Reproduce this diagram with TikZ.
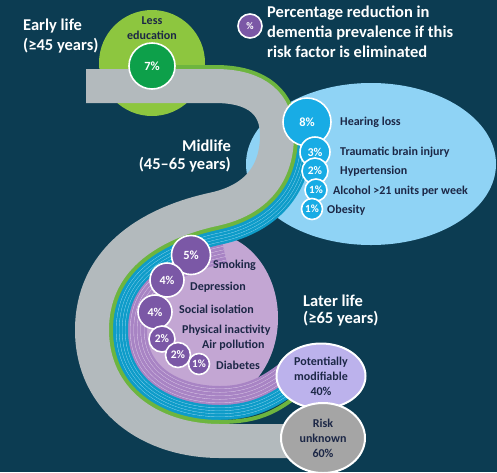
\documentclass[tikz,border=0pt]{standalone}
\usepackage{fontspec}
\setmainfont{Carlito}
\usetikzlibrary{shapes.geometric}
\definecolor{bgc}{HTML}{0C3C52}
\definecolor{bandgray}{HTML}{B3BABD}
\definecolor{lgreen}{HTML}{8DC63F}
\definecolor{dgreen}{HTML}{0DA04A}
\definecolor{gline}{HTML}{6DB53F}
\definecolor{lblue}{HTML}{8FD3F5}
\definecolor{bblue}{HTML}{18ACE5}
\definecolor{cyanl}{HTML}{0E9CC9}
\definecolor{cyanlt}{HTML}{8CD3EE}
\definecolor{lilac}{HTML}{C3A6D3}
\definecolor{purp}{HTML}{7B58A6}
\definecolor{purpl}{HTML}{A884C4}
\definecolor{purplt}{HTML}{DCC9E8}
\definecolor{lav}{HTML}{BCB2EC}
\definecolor{rgray}{HTML}{A5A5A5}
\definecolor{navy}{HTML}{1C2746}
\def\pA{(215,86) .. controls (258,86) and (277,105) .. (277,135)}
\def\pB{.. controls (277,175) and (255,200) .. (215,209)}
\def\pC{.. controls (145,224) and (92,262) .. (92,330)}
\def\pD{.. controls (92,400) and (150,441) .. (220,441)}
\def\pE{.. controls (262,441) and (292,425) .. (322,400)}
\begin{document}
\begin{tikzpicture}[x=1pt,y=-1pt,
  lbl/.style={font=\fontsize{12}{13}\selectfont\bfseries, text=navy, anchor=west, inner sep=0pt},
  big/.style={font=\fontsize{16.5}{18}\selectfont\bfseries, text=white, inner sep=0pt},
  bub/.style={circle, draw=white, line width=1.6pt, text=white, inner sep=0pt, font=\fontsize{11}{11}\selectfont\bfseries},
  ctext/.style={font=\fontsize{12}{15}\selectfont\bfseries, text=navy, align=center, inner sep=0pt},
  oval/.style={ellipse, draw=white, line width=2pt, inner sep=0pt, font=\fontsize{12}{15}\selectfont\bfseries, text=navy, align=center},
  line join=round]
\useasboundingbox (0,0) rectangle (497,472);
\fill[bgc] (0,0) rectangle (497,472);
% background shapes
\fill[lblue] (371,164) ellipse [x radius=125pt, y radius=81pt];
\fill[lilac] (208,318) ellipse [x radius=70pt, y radius=85pt];
\fill[lgreen] (152,63) circle [radius=53pt];
% line bundles on the left side of the band
\begin{scope}
\clip (86,86) -- \pA \pB \pC \pD \pE -- (520,400) -- (520,-20) -- (86,-20) -- cycle;
\foreach \w/\c in {110/purpl,104.8/purplt,104/purpl,97.8/purplt,97/purpl,90.8/purplt,90/purpl,83.8/purplt,83/purpl,76.8/purplt,76/purpl}
  \draw[line width=\w pt, \c] (215,209) \pC \pD \pE;
\foreach \w/\c in {72/cyanl,66.8/cyanlt,66/cyanl,60.8/cyanlt,60/cyanl,54.8/cyanlt,54/cyanl,48.8/cyanlt,48/cyanl}
  \draw[line width=\w pt, \c] (277,135) \pB \pC \pD \pE;
\draw[line width=42pt, gline] (130,86) -- \pA \pB \pC \pD;
\draw[line width=42pt, bgc] (220,441) \pE;
\end{scope}
% green edge where the bundles leave the band
\draw[gline, line width=4pt] (219,422) .. controls (262,422) and (281,410) .. (310,385);
% grey band
\draw[bandgray, line width=34pt] (86,86) -- \pA \pB \pC \pD -- (300,441);
% early life
\node[ctext] (less) at (152,21) {Less};
\node[ctext] (edu) at (152,35) {education};
\node[bub, fill=dgreen, minimum size=46pt, font=\fontsize{12.5}{12}\selectfont\bfseries] (g7) at (152,66) {7\%};
% legend
\node[bub, fill=purp, minimum size=24pt, font=\fontsize{10}{10}\selectfont\bfseries] (leg) at (250,26) {\%};
\node[big, anchor=west] (legt1) at (267,13) {Percentage reduction in};
\node[big, anchor=west] (legt2) at (267,33) {dementia prevalence if this};
\node[big, anchor=west] (legt3) at (267,52) {risk factor is eliminated};
% stage labels
\node[big, anchor=west] (early1) at (23,26) {Early life};
\node[big, anchor=west] (early2) at (23,46) {(≥45 years)};
\node[big, anchor=east] (mid1) at (231,146) {Midlife};
\node[big, anchor=east] (mid2) at (231,165) {(45--65 years)};
\node[big, anchor=west] (late1) at (303,301) {Later life};
\node[big, anchor=west] (late2) at (303,319) {(≥65 years)};
% midlife bubbles
\node[bub, fill=bblue, minimum size=48pt, font=\fontsize{12.5}{12}\selectfont\bfseries] (b8) at (307,122) {8\%};
\node[bub, fill=bblue, minimum size=30pt, font=\fontsize{12}{12}\selectfont\bfseries] (b3) at (315,152) {3\%};
\node[bub, fill=bblue, minimum size=26pt, font=\fontsize{11.5}{12}\selectfont\bfseries] (b2) at (315,171) {2\%};
\node[bub, fill=bblue, minimum size=22pt] (b1a) at (316,190) {1\%};
\node[bub, fill=bblue, minimum size=21pt] (b1b) at (312,209) {1\%};
\node[lbl] (hear) at (340,122) {Hearing loss};
\node[lbl] (tbi) at (340,152) {Traumatic brain injury};
\node[lbl] (hyp) at (340,171) {Hypertension};
\node[lbl] (alc) at (333,191) {Alcohol >21 units per week};
\node[lbl] (obe) at (327,210) {Obesity};
% later life bubbles
\node[bub, fill=purp, minimum size=39pt, font=\fontsize{12.5}{12}\selectfont\bfseries] (p5) at (191,255) {5\%};
\node[bub, fill=purp, minimum size=34pt, font=\fontsize{12}{12}\selectfont\bfseries] (p4a) at (167,280) {4\%};
\node[bub, fill=purp, minimum size=34pt, font=\fontsize{12}{12}\selectfont\bfseries] (p4b) at (155,312) {4\%};
\node[bub, fill=purp, minimum size=26pt, font=\fontsize{11.5}{12}\selectfont\bfseries] (p2a) at (162,339) {2\%};
\node[bub, fill=purp, minimum size=25pt, font=\fontsize{11.5}{12}\selectfont\bfseries] (p2b) at (178,355) {2\%};
\node[bub, fill=purp, minimum size=21pt] (p1) at (199,364) {1\%};
\node[lbl] (smo) at (213,265) {Smoking};
\node[lbl] (dep) at (190,287) {Depression};
\node[lbl] (soc) at (179,309) {Social isolation};
\node[lbl] (phy) at (182,330) {Physical inactivity};
\node[lbl] (air) at (202,345) {Air pollution};
\node[lbl] (dia) at (216,365) {Diabetes};
% outcome ovals
\node[oval, fill=lav, minimum width=89pt, minimum height=65pt] (pm) at (321,376) {Potentially\\modifiable\\40\%};
\node[oval, fill=rgray, minimum width=84pt, minimum height=70pt] (risk) at (323,438) {Risk\\unknown\\60\%};
\end{tikzpicture}
\end{document}
